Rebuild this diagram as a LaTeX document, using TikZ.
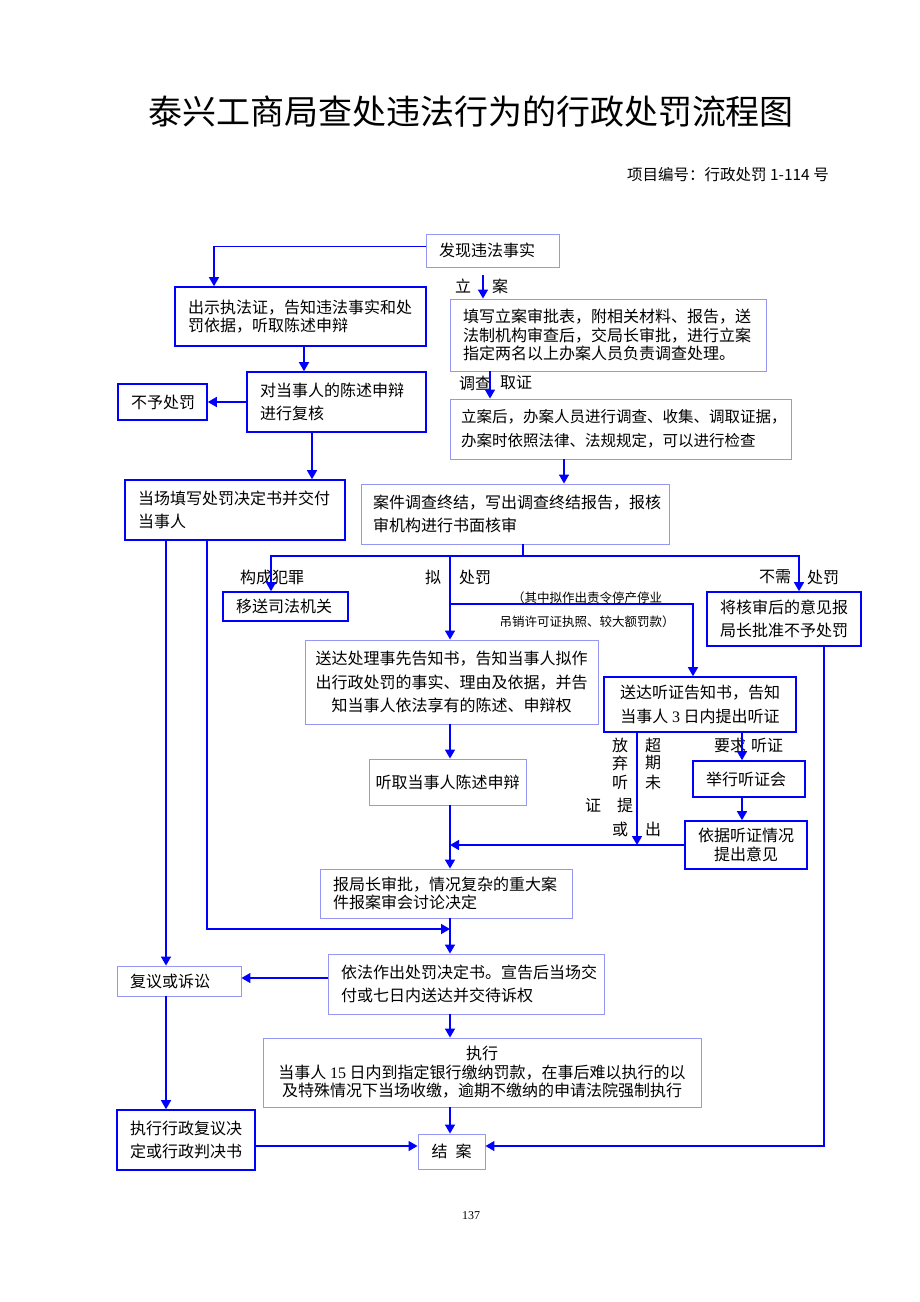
\documentclass[tikz,border=0pt]{standalone}
\usepackage{fontspec}
\setmainfont{Noto Sans CJK SC}
\newfontfamily\latin{Liberation Serif}
\usetikzlibrary{arrows.meta}
\definecolor{lineblue}{RGB}{0,0,255}
\definecolor{lightblue}{RGB}{150,150,245}

\begin{document}
\begin{tikzpicture}[x=1pt,y=-1pt]
% Define styles
\tikzstyle{box} = [rectangle, draw=lightblue, line width=0.9pt, inner xsep=13pt, inner ysep=0pt, align=left, font=\fontsize{16}{23.5}\selectfont]
\tikzstyle{darkbox} = [box, draw=lineblue, line width=1.6pt]
\tikzstyle{tight} = [font=\fontsize{16}{18.5}\selectfont]
\tikzstyle{line} = [draw=lineblue, line width=1.5pt]
\tikzstyle{flow} = [line, -{Triangle[length=9pt,width=10pt]}]
\tikzstyle{lbl} = [inner sep=0pt, font=\fontsize{16}{18}\selectfont]
\tikzstyle{small} = [inner sep=0pt, font=\fontsize{12.5}{15}\selectfont]
\useasboundingbox (0,0) rectangle (920,1302);
% Title
\node[inner sep=0pt, font=\fontsize{34}{40}\selectfont] (title) at (471,112) {泰兴工商局查处违法行为的行政处罚流程图};
\node[inner sep=0pt, anchor=east, font=\fontsize{15.5}{17}\selectfont] (itemno) at (829,175) {项目编号：行政处罚 1-114 号};
% Define nodes
\node[box, text width=107pt, minimum height=33pt] (find) at (492.5,250.5) {发现违法事实};
\node[darkbox, tight, text width=225pt, minimum height=59pt] (show) at (300.5,316.5) {出示执法证，告知违法事实和处\\罚依据，听取陈述申辩};
\node[box, tight, text width=290pt, minimum height=72pt] (fill) at (608,335) {填写立案审批表，附相关材料、报告，送\\法制机构审查后，交局长审批，进行立案\\指定两名以上办案人员负责调查处理。};
\node[darkbox, text width=153pt, minimum height=60pt] (review) at (336.5,402) {对当事人的陈述申辩\\进行复核};
\node[darkbox, text width=63pt, minimum height=36pt] (nopen) at (162.5,402) {不予处罚};
\node[box, inner xsep=11pt, text width=319pt, minimum height=60pt, font=\fontsize{15.5}{23.5}\selectfont] (investigate) at (620.5,429) {立案后，办案人员进行调查、收集、调取证据，\\办案时依照法律、法规规定，可以进行检查};
\node[darkbox, text width=194pt, minimum height=60pt] (onsite) at (235,510) {当场填写处罚决定书并交付\\当事人};
\node[box, inner xsep=12pt, text width=284pt, minimum height=60pt] (conclude) at (515,514) {案件调查终结，写出调查终结报告，报核\\审机构进行书面核审};
\node[darkbox, text width=99pt, minimum height=29pt] (transfer) at (285.5,606.5) {移送司法机关};
\node[darkbox, text width=128pt, minimum height=54pt] (noneed) at (784,619) {将核审后的意见报\\局长批准不予处罚};
\node[box, align=center, inner xsep=6pt, minimum width=293pt, minimum height=84pt] (notify) at (451.5,682) {送达处理事先告知书，告知当事人拟作\\出行政处罚的事实、理由及依据，并告\\知当事人依法享有的陈述、申辩权};
\node[darkbox, align=center, inner xsep=6pt, minimum width=192pt, minimum height=55pt] (hearnotice) at (700,704.5) {送达听证告知书，告知\\当事人 {\latin 3} 日内提出听证};
\node[darkbox, text width=86pt, minimum height=36pt] (hold) at (749,779) {举行听证会};
\node[box, align=center, inner xsep=5pt, minimum width=157pt, minimum height=46pt] (listen) at (447.5,782) {听取当事人陈述申辩};
\node[darkbox, tight, align=center, inner xsep=6pt, minimum width=122pt, minimum height=48pt] (opinion) at (746,845) {依据听证情况\\提出意见};
\node[box, tight, text width=226pt, minimum height=49pt] (report) at (446,893.5) {报局长审批，情况复杂的重大案\\件报案审会讨论决定};
\node[box, text width=98pt, minimum height=30pt] (recon) at (179,981) {复议或诉讼};
\node[box, text width=250pt, minimum height=60pt] (decision) at (466,984) {依法作出处罚决定书。宣告后当场交\\付或七日内送达并交待诉权};
\node[box, tight, align=center, inner xsep=6pt, minimum width=438pt, minimum height=69pt] (exec) at (482,1072.5) {执行\\当事人 {\latin 15} 日内到指定银行缴纳罚款，在事后难以执行的以\\及特殊情况下当场收缴，逾期不缴纳的申请法院强制执行};
\node[darkbox, align=center, inner xsep=6pt, minimum width=138pt, minimum height=60pt] (execrecon) at (186,1140) {执行行政复议决\\定或行政判决书};
\node[box, align=center, inner xsep=6pt, minimum width=67pt, minimum height=35pt] (close) at (451.5,1151.5) {结\hspace{0.5em}案};
% Labels
\node[lbl] (l1) at (463,286) {立};
\node[lbl] (l2) at (500,286) {案};
\node[lbl] (l3) at (475,383) {调查};
\node[lbl] (l4) at (516,383) {取证};
\node[lbl] (l5) at (272,577) {构成犯罪};
\node[lbl] (l6) at (433,577) {拟};
\node[lbl] (l7) at (475,577) {处罚};
\node[lbl] (l8) at (775,577) {不需};
\node[lbl] (l9) at (823,577) {处罚};
\node[small] (l10) at (587,598) {（其中拟作出责令停产停业};
\node[small] (l11) at (587,622) {吊销许可证执照、较大额罚款）};
\node[lbl] (l12) at (730,745) {要求};
\node[lbl] (l13) at (767,745) {听证};
\node[lbl] (v1) at (620,745) {放};
\node[lbl] (v2) at (620,763) {弃};
\node[lbl] (v3) at (620,782) {听};
\node[lbl] (v4) at (593,805) {证};
\node[lbl] (v5) at (625,805) {提};
\node[lbl] (v6) at (620,829) {或};
\node[lbl] (w1) at (653,745) {超};
\node[lbl] (w2) at (653,763) {期};
\node[lbl] (w3) at (653,782) {未};
\node[lbl] (w4) at (653,829) {出};
\node[inner sep=0pt, font=\latin\fontsize{12}{14}\selectfont] (page) at (471,1216) {137};
% Lanes
\coordinate (la) at (214,0);
\coordinate (lb) at (304,0);
\coordinate (lc) at (312,0);
\coordinate (ld) at (490,0);
\coordinate (le) at (564,0);
\coordinate (lf) at (271,0);
\coordinate (lg) at (799,0);
\coordinate (lh) at (693,0);
\coordinate (li) at (637,0);
\coordinate (lj) at (742,0);
\coordinate (lk) at (824,0);
\coordinate (ll) at (166,0);
\coordinate (lm) at (207,0);
\coordinate (main) at (450,0);
\coordinate (lian) at (483,275);
\coordinate (bus) at (523,556);
\coordinate (hb) at (450,604);
\coordinate (merge) at (0,845);
\coordinate (join) at (0,929);
\coordinate (recy) at (0,978);
\coordinate (endy) at (0,1146);
% Connect the nodes
\draw[flow] ([yshift=4pt]find.west) -| (la |- show.north);
\draw[flow] (lian) -- (lian |- fill.north);
\draw[flow] (lb |- show.south) -- (lb |- review.north);
\draw[flow] (review.west) -- (nopen.east);
\draw[flow] (lc |- review.south) -- (lc |- onsite.north);
\draw[flow] (ld |- fill.south) -- (ld |- investigate.north);
\draw[flow] (le |- investigate.south) -- (le |- conclude.north);
\draw[line] (bus |- conclude.south) -- (bus);
\draw[flow] (bus) -| (lf |- transfer.north);
\draw[flow] (bus) -| (lg |- noneed.north);
\draw[flow] (main |- bus) -- (main |- notify.north);
\draw[flow] (hb) -| (lh |- hearnotice.north);
\draw[flow] (main |- notify.south) -- (main |- listen.north);
\draw[flow] (main |- listen.south) -- (main |- report.north);
\draw[flow] (li |- hearnotice.south) -- (li |- merge);
\draw[flow] (lj |- hearnotice.south) -- (lj |- hold.north);
\draw[flow] (lj |- hold.south) -- (lj |- opinion.north);
\draw[flow] (opinion.west) -- (main |- opinion.west);
\draw[flow] (lk |- noneed.south) |- (close.east |- endy);
\draw[flow] (ll |- onsite.south) -- (ll |- recon.north);
\draw[flow] (lm |- onsite.south) |- (main |- join);
\draw[flow] (main |- report.south) -- (main |- decision.north);
\draw[flow] (decision.west |- recy) -- (recon.east |- recy);
\draw[flow] (ll |- recon.south) -- (ll |- execrecon.north);
\draw[flow] (main |- decision.south) -- (main |- exec.north);
\draw[flow] (main |- exec.south) -- (main |- close.north);
\draw[flow] (execrecon.east |- endy) -- (close.west |- endy);
\end{tikzpicture}
\end{document}
